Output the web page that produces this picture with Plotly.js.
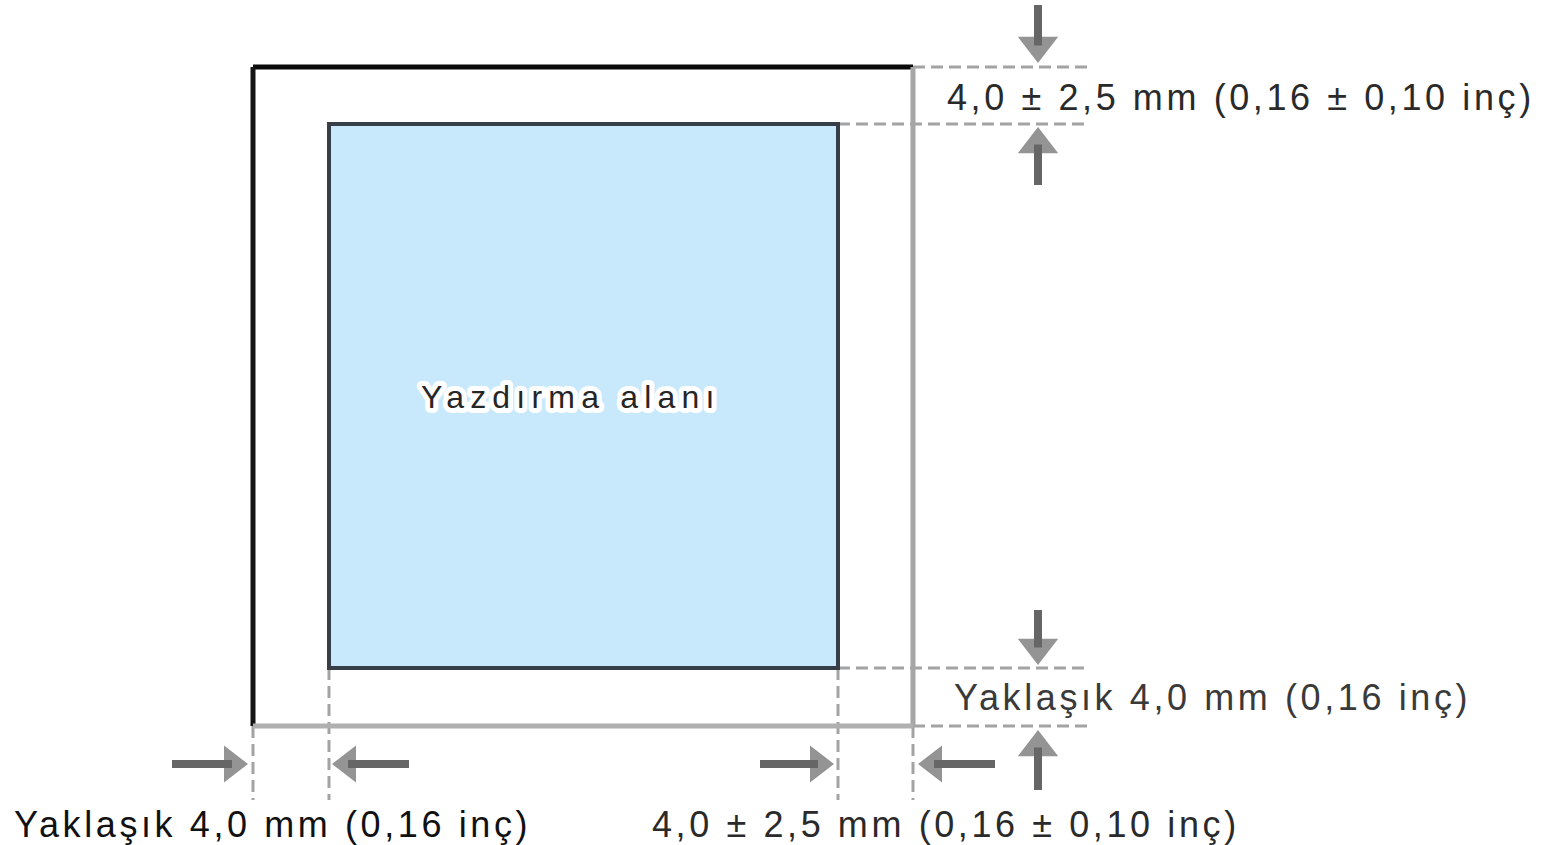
<!DOCTYPE html>
<html>
<head>
<meta charset="utf-8">
<script src="https://cdn.plot.ly/plotly-3.0.1.min.js"></script>
<style>
  html, body { margin: 0; padding: 0; background: #fff; overflow: hidden; }
  #chart { width: 1553px; height: 845px; }
</style>
</head>
<body>
<div id="chart"></div>
<script>
// ---- diagram values (drawing units = page units of the reference) ----
const sheetX = [253, 913];          // paper sheet left / right
const sheetY = [67, 726];           // paper sheet top / bottom
const printX = [329, 838];          // printable area left / right
const printY = [124, 668];          // printable area top / bottom

// dashed extension (guide) lines
const guideHY  = [67, 124, 668, 726];
const guideHX0 = [913, 838, 838, 913];
const guideHX1 = [1090, 1090, 1090, 1090];
const guideVX  = [253, 329, 838, 913];
const guideVY0 = [726, 668, 668, 726];
const guideVY1 = [800, 800, 800, 800];

// dimension arrows (tail -> tip)
const arrowTailX = [1038, 1038, 1038, 1038, 172, 409, 760, 995];
const arrowTailY = [5, 185, 610, 790, 764, 764, 764, 764];
const arrowTipX  = [1038, 1038, 1038, 1038, 248, 332, 834, 918];
const arrowTipY  = [63, 127, 665, 730, 764, 764, 764, 764];

// dimension labels
const labelText = [
  '4,0 ± 2,5 mm (0,16 ± 0,10 inç)',
  'Yaklaşık 4,0 mm (0,16 inç)',
  'Yaklaşık 4,0 mm (0,16 inç)',
  '4,0 ± 2,5 mm (0,16 ± 0,10 inç)'
];
const labelX = [945, 952, 12, 650];
const labelY = [97, 697, 824, 824];
const labelColor = ['#2a2a2a', '#3a3a3a', '#111111', '#2a2a2a'];

const areaLabel = 'Yazdırma alanı';
const areaLabelX = 571;
const areaLabelY = 397;

// ---- build ----
const W = 1553, H = 845;
const ARROW = '#666666';

const shapes = [];
// guides (dashed)
guideHY.forEach((y, i) => shapes.push({
  type: 'line', xref: 'x', yref: 'y', x0: guideHX0[i], x1: guideHX1[i], y0: y, y1: y,
  line: { color: '#a3a3a3', width: 3, dash: '12px,6px' }, layer: 'below'
}));
guideVX.forEach((x, i) => shapes.push({
  type: 'line', xref: 'x', yref: 'y', x0: x, x1: x, y0: guideVY0[i], y1: guideVY1[i],
  line: { color: '#a3a3a3', width: 3, dash: '12px,6px' }, layer: 'below'
}));
// printable area
shapes.push({
  type: 'rect', xref: 'x', yref: 'y',
  x0: printX[0], x1: printX[1], y0: printY[0], y1: printY[1],
  fillcolor: '#c7e9fb', line: { color: '#363f47', width: 4 }
});
// paper sheet edges: top/left dark, right/bottom grey
shapes.push({ type: 'line', xref: 'x', yref: 'y', x0: sheetX[0], x1: sheetX[1], y0: sheetY[0], y1: sheetY[0], line: { color: '#0a0a0a', width: 5 } });
shapes.push({ type: 'line', xref: 'x', yref: 'y', x0: sheetX[0], x1: sheetX[0], y0: sheetY[0], y1: sheetY[1], line: { color: '#151515', width: 5 } });
shapes.push({ type: 'line', xref: 'x', yref: 'y', x0: sheetX[1], x1: sheetX[1], y0: sheetY[0], y1: sheetY[1], line: { color: '#a6a6a6', width: 5 } });
shapes.push({ type: 'line', xref: 'x', yref: 'y', x0: sheetX[0], x1: sheetX[1], y0: sheetY[1], y1: sheetY[1], line: { color: '#b0b0b0', width: 5 } });

// arrows: shaft lines + triangle heads
const shaftX = [], shaftY = [], headX = [], headY = [], headSym = [], headSize = [];
arrowTailX.forEach((tx, i) => {
  const dx = arrowTipX[i] - tx, dy = arrowTipY[i] - arrowTailY[i];
  const len = Math.hypot(dx, dy), ux = dx / len, uy = dy / len;
  const vertical = Math.abs(uy) > 0.5;
  const size = vertical ? 35 : 32;
  const r = size / 2;
  const cx = arrowTipX[i] - ux * r, cy = arrowTipY[i] - uy * r;
  shaftX.push(tx, cx, null);
  shaftY.push(arrowTailY[i], cy, null);
  headX.push(cx); headY.push(cy); headSize.push(size);
  headSym.push(vertical ? (uy > 0 ? 'triangle-down' : 'triangle-up')
                        : (ux > 0 ? 'triangle-right' : 'triangle-left'));
});

const data = [
  { type: 'scatter', mode: 'lines', x: shaftX, y: shaftY,
    line: { color: ARROW, width: 8 }, hoverinfo: 'skip', showlegend: false },
  { type: 'scatter', mode: 'markers', x: headX, y: headY,
    marker: { symbol: headSym, size: headSize, color: ARROW, line: { width: 0 } },
    hoverinfo: 'skip', showlegend: false }
];

const FONT = 'Liberation Sans, Arial, sans-serif';
const annotations = labelText.map((t, i) => ({
  xref: 'x', yref: 'y', x: labelX[i], y: labelY[i],
  xanchor: 'left', yanchor: 'middle', showarrow: false,
  text: '<span style="letter-spacing:3.6px">' + t + '</span>',
  font: { family: FONT, size: 36, color: labelColor[i] }
}));
// white halo underneath, then the dark label on top
annotations.push({
  xref: 'x', yref: 'y', x: areaLabelX, y: areaLabelY,
  xanchor: 'center', yanchor: 'middle', showarrow: false,
  text: '<span style="letter-spacing:6.2px;stroke:#ffffff;stroke-width:10px;stroke-linejoin:round">' + areaLabel + '</span>',
  font: { family: FONT, size: 32, color: '#ffffff' }
});
annotations.push({
  xref: 'x', yref: 'y', x: areaLabelX, y: areaLabelY,
  xanchor: 'center', yanchor: 'middle', showarrow: false,
  text: '<span style="letter-spacing:6.2px">' + areaLabel + '</span>',
  font: { family: FONT, size: 32, color: '#262626' }
});

const layout = {
  width: W, height: H,
  margin: { l: 0, r: 0, t: 0, b: 0, pad: 0 },
  paper_bgcolor: '#ffffff', plot_bgcolor: '#ffffff',
  xaxis: { range: [0, W], visible: false, fixedrange: true },
  yaxis: { range: [H, 0], visible: false, fixedrange: true },
  shapes: shapes,
  annotations: annotations,
  showlegend: false,
  hovermode: false
};

Plotly.newPlot('chart', data, layout, { displayModeBar: false, staticPlot: true });
</script>
</body>
</html>
